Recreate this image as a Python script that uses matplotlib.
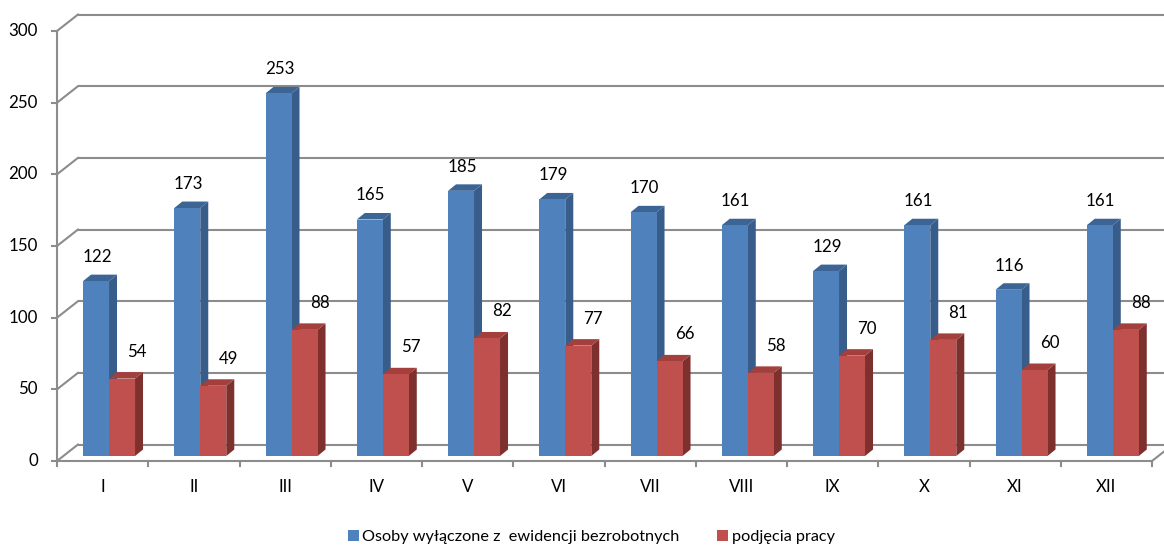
import matplotlib
matplotlib.use("Agg")
import matplotlib.pyplot as plt
from matplotlib.patches import Polygon, Rectangle

plt.rcParams['font.family'] = ['Lato', 'DejaVu Sans']

months = ["I", "II", "III", "IV", "V", "VI", "VII", "VIII", "IX", "X", "XI", "XII"]
removed = [122, 173, 253, 165, 185, 179, 170, 161, 129, 161, 116, 161]
jobs = [54, 49, 88, 57, 82, 77, 66, 58, 70, 81, 60, 88]
series_names = ["Osoby wyłączone z  ewidencji bezrobotnych", "podjęcia pracy"]
y_ticks = [0, 50, 100, 150, 200, 250, 300]

W, H = 1164, 547
fig = plt.figure(figsize=(W / 100, H / 100), dpi=100)
ax = fig.add_axes([57 / W, (H - 461) / H, 1095 / W, 430 / H])
ax.set_xlim(0, len(months))
ax.set_ylim(0, 300)
ax.axis("off")

# pixel scale of the data axes
px_x = 1095 / len(months)
px_y = 430 / 300.0

# oblique depth: back wall, bar front plane, bar thickness
wall_dx, wall_dy = 21 / px_x, 16.5 / px_y
front_dx, front_dy = 6.4 / px_x, 5 / px_y
bar_dx, bar_dy = 8 / px_x, 6.5 / px_y
bar_w = 26 / px_x

grid_c = "#8c8c8c"
grid_lw = 1.5
fs = 12.2

# walls: grid lines on the back wall and diagonals on the side wall
x_right = (W - 57) / px_x
for v in y_ticks:
    ax.plot([wall_dx, x_right], [v + wall_dy, v + wall_dy], color=grid_c,
            lw=grid_lw, clip_on=False, zorder=1, solid_capstyle="butt")
    ax.plot([0, wall_dx], [v, v + wall_dy], color=grid_c, lw=grid_lw,
            clip_on=False, zorder=1)
    ax.plot([-5 / px_x, 0], [v, v], color=grid_c, lw=grid_lw, clip_on=False, zorder=1)
    ax.text(-19 / px_x, v, str(v), ha="right", va="center", fontsize=fs,
            color="black")

# front vertical axis and floor edges
ax.plot([0, 0], [0, 300], color=grid_c, lw=grid_lw, clip_on=False, zorder=1)
n = len(months)
ax.plot([0, n], [0, 0], color=grid_c, lw=grid_lw, clip_on=False, zorder=1)
ax.plot([n, n + wall_dx], [0, wall_dy], color=grid_c, lw=grid_lw,
        clip_on=False, zorder=1)
for k in range(n + 1):
    ax.plot([k, k], [0, -5 / px_y], color=grid_c, lw=grid_lw, clip_on=False, zorder=1)
for k, m in enumerate(months):
    ax.text(k + 0.5, -26 / px_y, m, ha="center", va="center", fontsize=fs)


def bar3d(x0, value, front, side, top, z):
    y0 = front_dy
    y1 = value + front_dy
    ax.add_patch(Polygon([(x0 + bar_w, y0), (x0 + bar_w + bar_dx, y0 + bar_dy),
                          (x0 + bar_w + bar_dx, y1 + bar_dy), (x0 + bar_w, y1)],
                         closed=True, facecolor=side, edgecolor="none",
                         clip_on=False, zorder=z))
    ax.add_patch(Polygon([(x0, y1), (x0 + bar_w, y1),
                          (x0 + bar_w + bar_dx, y1 + bar_dy), (x0 + bar_dx, y1 + bar_dy)],
                         closed=True, facecolor=top, edgecolor="none",
                         clip_on=False, zorder=z))
    ax.add_patch(Rectangle((x0, y0), bar_w, value, facecolor=front,
                           edgecolor="none", clip_on=False, zorder=z))


blue = ("#4f81bd", "#385d8a", "#3c6596")
red = ("#c0504d", "#7e302e", "#a33f3c")

for k in range(n):
    cx = k + 0.5 + front_dx
    xb = cx - bar_w
    xr = cx
    bar3d(xb, removed[k], *blue, z=2 + k * 2)
    bar3d(xr, jobs[k], *red, z=3 + k * 2)
    ax.annotate(str(removed[k]), (xb + bar_w / 2, removed[k] + front_dy),
                xytext=(1, 24), textcoords="offset pixels", ha="center",
                va="center", fontsize=fs, zorder=40)
    ax.annotate(str(jobs[k]), (xr + bar_w / 2, jobs[k] + front_dy),
                xytext=(15, 27), textcoords="offset pixels", ha="center",
                va="center", fontsize=fs, zorder=40)

handles = [Rectangle((0, 0), 1, 1, facecolor=blue[0], edgecolor="none"),
           Rectangle((0, 0), 1, 1, facecolor=red[0], edgecolor="none")]
fig.legend(handles, series_names, loc="center", bbox_to_anchor=(591 / W, 1 - 537 / H),
           ncol=2, frameon=False, fontsize=11.7, handlelength=0.7, handleheight=0.7,
           handletextpad=0.2, columnspacing=2.3, borderaxespad=0)

fig.savefig("out.png", dpi=100, facecolor="white")
